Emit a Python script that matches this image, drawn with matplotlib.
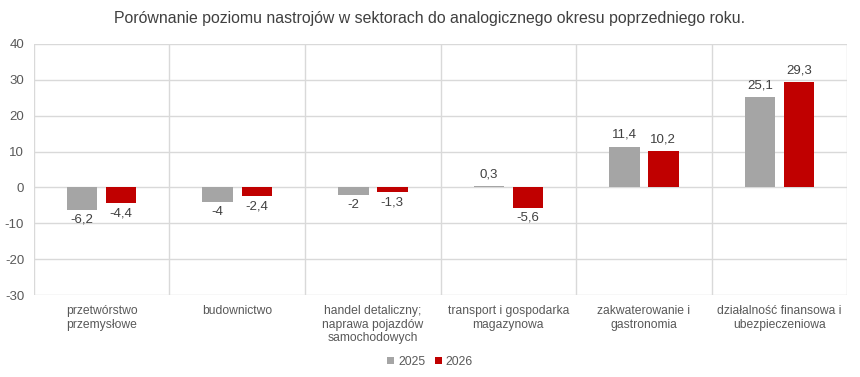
import matplotlib
matplotlib.use("Agg")
import matplotlib.pyplot as plt
import numpy as np

plt.rcParams['font.family'] = ['Liberation Sans', 'DejaVu Sans']

categories = ["przetwórstwo\nprzemysłowe", "budownictwo",
              "handel detaliczny;\nnaprawa pojazdów\nsamochodowych",
              "transport i gospodarka\nmagazynowa",
              "zakwaterowanie i\ngastronomia",
              "działalność finansowa i\nubezpieczeniowa"]
s2025 = [-6.2, -4, -2, 0.3, 11.4, 25.1]
s2026 = [-4.4, -2.4, -1.3, -5.6, 10.2, 29.3]
series_names = ["2025", "2026"]
yticks = [-30, -20, -10, 0, 10, 20, 30, 40]
title = "Porównanie poziomu nastrojów w sektorach do analogicznego okresu poprzedniego roku."

colors = ["#a5a5a5", "#c00000"]

fig = plt.figure(figsize=(8.6, 3.77), dpi=100)
ax = fig.add_axes([0.0395, 0.2175, 0.9455, 0.6658])

x = np.arange(len(categories))
w = 0.225
off = 0.144
for vals, sign, col, name in [(s2025, -1, colors[0], series_names[0]), (s2026, 1, colors[1], series_names[1])]:
    ax.bar(x + sign * off, vals, width=w, color=col, label=name, zorder=3)
    for xi, v in zip(x + sign * off, vals):
        lbl = f"{v:g}".replace(".", ",")
        if v >= 0:
            ax.annotate(lbl, (xi, v), xytext=(0, 4), textcoords="offset points",
                        ha="center", va="bottom", fontsize=9.5, color="#404040")
        else:
            ax.annotate(lbl, (xi, v), xytext=(0, -3), textcoords="offset points",
                        ha="center", va="top", fontsize=9.5, color="#404040")

ax.set_xlim(-0.5, len(categories) - 0.5)
ax.set_ylim(-30, 40)
ax.set_yticks(yticks)
ax.set_yticklabels([str(t) for t in yticks], fontsize=9.5, color="#595959")
ax.set_xticks(x)
ax.set_xticklabels(categories, fontsize=8.7, color="#595959", linespacing=1.2)
ax.tick_params(axis="both", length=0)
ax.tick_params(axis="x", pad=7)
ax.tick_params(axis="y", pad=7)
for yt in yticks:
    ax.axhline(yt, color="#d9d9d9", lw=1, zorder=1)
for b in np.arange(-0.5, len(categories), 1.0):
    ax.axvline(b, color="#d9d9d9", lw=1, zorder=1)
for s in ax.spines.values():
    s.set_visible(False)

fig.text(0.5, 0.95, title, ha="center", va="center", fontsize=11.4, color="#404040")

fig.legend(loc="center", bbox_to_anchor=(0.5, 0.04), ncol=2, frameon=False,
           fontsize=8.7, handlelength=0.6, handleheight=0.6, handletextpad=0.3,
           columnspacing=0.8, labelcolor="#595959")

fig.savefig("out.png", dpi=100)
